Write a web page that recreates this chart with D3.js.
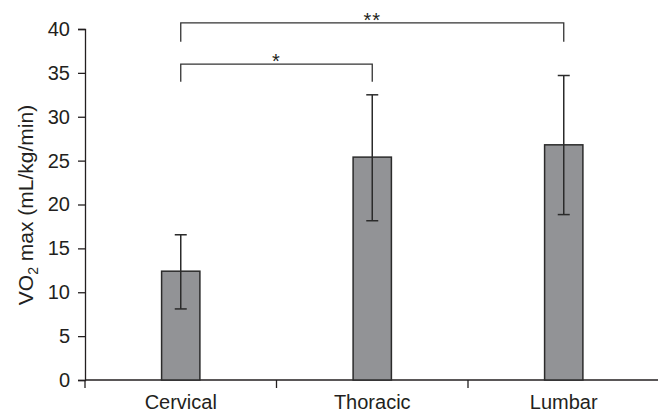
<!DOCTYPE html>
<html><head><meta charset="utf-8">
<script src="https://cdn.jsdelivr.net/npm/d3@7"></script>
<style>body{margin:0;background:#fff}svg{display:block;font-family:"Liberation Sans",Arial,sans-serif}</style>
</head><body><svg id="c" width="658" height="414"></svg>
<script>
const categories = ["Cervical", "Thoracic", "Lumbar"];
const means = [12.4, 25.4, 26.8];
const errUpper = [16.55, 32.5, 34.7];
const errLower = [8.1, 18.15, 18.85];
const yTicks = [0, 5, 10, 15, 20, 25, 30, 35, 40];
const comparisons = [
  {from: "Cervical", to: "Thoracic", level: 36.0, leg: 34.0, label: "*"},
  {from: "Cervical", to: "Lumbar", level: 40.7, leg: 38.55, label: "**"}
];

const svg = d3.select("#c");
const ink = "#231f20";
const x = d3.scaleBand().domain(categories).range([85, 659.5]).padding(0);
const y = d3.scaleLinear().domain([0, 40]).range([380, 29]);
const cx = c => x(c) + x.bandwidth() / 2;
const bw = x.bandwidth() * 0.2;

// y axis
const ya = svg.append("g").attr("transform", "translate(85,0)")
  .call(d3.axisLeft(y).tickValues(yTicks).tickSize(7).tickPadding(8));
ya.select(".domain").attr("stroke", ink).attr("stroke-width", 1.3);
ya.selectAll(".tick line").attr("stroke", ink).attr("stroke-width", 1.3);
ya.selectAll(".tick text").attr("font-size", 20).attr("fill", ink).attr("font-family", "Liberation Sans, Arial, sans-serif");

// x axis
const xa = svg.append("g").attr("transform", "translate(0,380)");
xa.append("line").attr("x1", 85).attr("x2", 660).attr("stroke", ink).attr("stroke-width", 1.3);
xa.selectAll("line.tk").data(categories).join("line").attr("class", "tk")
  .attr("x1", d => x(d)).attr("x2", d => x(d)).attr("y1", 0).attr("y2", 8)
  .attr("stroke", ink).attr("stroke-width", 1.3);
xa.selectAll("text").data(categories).join("text")
  .attr("x", d => cx(d)).attr("y", 29).attr("text-anchor", "middle")
  .attr("font-size", 20).attr("fill", ink).text(d => d);

// bars
svg.selectAll("rect.bar").data(categories).join("rect").attr("class", "bar")
  .attr("x", d => cx(d) - bw / 2).attr("width", bw)
  .attr("y", (d, i) => y(means[i])).attr("height", (d, i) => y(0) - y(means[i]))
  .attr("fill", "#929396").attr("stroke", "#2b2b2b").attr("stroke-width", 1.5);

// error bars
const eb = svg.append("g").attr("stroke", "#2b2b2b").attr("stroke-width", 1.5);
categories.forEach((c, i) => {
  eb.append("line").attr("x1", cx(c)).attr("x2", cx(c)).attr("y1", y(errUpper[i])).attr("y2", y(errLower[i]));
  [errUpper[i], errLower[i]].forEach(v => {
    eb.append("line").attr("x1", cx(c) - 6).attr("x2", cx(c) + 6).attr("y1", y(v)).attr("y2", y(v));
  });
});

// significance brackets
comparisons.forEach(cmp => {
  const x1 = cx(cmp.from), x2 = cx(cmp.to);
  svg.append("path")
    .attr("d", `M${x1},${y(cmp.leg)}V${y(cmp.level)}H${x2}V${y(cmp.leg)}`)
    .attr("fill", "none").attr("stroke", "#333").attr("stroke-width", 1.3);
  svg.append("text").attr("x", (x1 + x2) / 2).attr("y", y(cmp.level) + 4)
    .attr("text-anchor", "middle").attr("font-size", 20).attr("letter-spacing", 1)
    .attr("fill", ink).text(cmp.label);
});

// y label
const yl = svg.append("text").attr("transform", "translate(33,205) rotate(-90)")
  .attr("text-anchor", "middle").attr("font-size", 21).attr("fill", ink);
yl.append("tspan").text("VO");
yl.append("tspan").attr("font-size", 14).attr("dy", 5).text("2");
yl.append("tspan").attr("dy", -5).text(" max (mL/kg/min)");
</script></body></html>
